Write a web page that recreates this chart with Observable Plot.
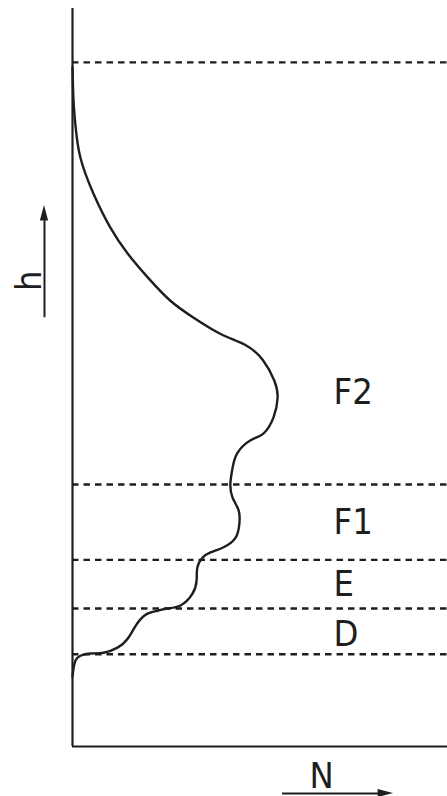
<!DOCTYPE html>
<html>
<head>
<meta charset="utf-8">
<script src="https://cdn.jsdelivr.net/npm/d3@7"></script>
<script src="https://cdn.jsdelivr.net/npm/@observablehq/plot@0.6"></script>
<style>
  html, body { margin: 0; padding: 0; background: #fff; }
  #chart svg { display: block; }
</style>
</head>
<body>
<div id="chart"></div>
<script>
// Electron density N (relative, 0–100) versus height h (relative, 0–100)
const profileN = [0, 0.27, 0.8, 2.1, 4.8, 8.3, 12.0, 14.7, 17.3, 20.0, 22.7, 25.3, 28.8, 32.0, 33.1, 33.3, 34.7, 36.8, 40.3, 43.5, 44.5, 44.3, 42.7, 42.1, 42.7, 44.0, 47.5, 50.9, 53.6, 54.7, 53.8, 50.7, 46.1, 39.5, 32.3, 26.1, 20.0, 14.7, 10.1, 5.6, 2.1, 0.8, 0.27, 0];
const profileH = [9.5, 10.6, 11.65, 12.3, 12.6, 12.7, 13.4, 14.6, 16.7, 18.0, 18.4, 18.7, 19.1, 20.7, 22.5, 24.3, 25.6, 26.3, 27.0, 28.3, 30.2, 32.0, 33.7, 35.6, 37.8, 39.8, 41.5, 42.4, 44.6, 47.3, 49.6, 52.4, 54.4, 55.9, 58.1, 60.4, 63.6, 66.8, 70.3, 74.9, 79.8, 84.1, 87.5, 92.0];

// Layer boundaries (dashed lines) and layer names
const boundaryH = [12.5, 18.7, 25.3, 35.5, 92.7];
const layerNames = ["D", "E", "F1", "F2"];
const layerLabelH = [15.2, 22.0, 30.4, 48.0];

const axisLabels = ["h", "N"];

const profile = profileN.map((n, i) => ({N: n, h: profileH[i]}));
const layers = layerNames.map((name, i) => ({name, h: layerLabelH[i]}));

const ink = "#1e1e1e";
const font = "'Liberation Sans Narrow', 'DejaVu Sans Condensed', 'Liberation Sans', sans-serif";

// h-arrow (vertical, pointing up) and N-arrow (horizontal, pointing right)
const hArrowX = -7.47, hArrowY1 = 58.1, hArrowY2 = 71.5, hTip = 73.3, hHalf = 1.1;
const nArrowY = -6.37, nArrowX1 = 56.0, nArrowX2 = 81.8, nTip = 85.6, nHalf = 0.55;

const chart = Plot.plot({
  width: 447,
  height: 796,
  marginLeft: 72,
  marginRight: 0,
  marginTop: 8,
  marginBottom: 50,
  x: {domain: [0, 100], axis: null},
  y: {domain: [0, 100], axis: null},
  style: {background: "#fff", overflow: "visible"},
  marks: [
    // dashed layer boundaries
    Plot.ruleY(boundaryH, {x1: 0, x2: 100, stroke: ink, strokeWidth: 2.3, strokeDasharray: "6.5,5"}),
    // axes
    Plot.ruleX([0], {y1: 0, y2: 100, stroke: ink, strokeWidth: 2.2}),
    Plot.ruleY([0], {x1: 0, x2: 100, stroke: ink, strokeWidth: 2.2}),
    // profile
    Plot.line(profile, {x: "N", y: "h", curve: "natural", stroke: ink, strokeWidth: 2.4}),
    // layer labels
    Plot.text(layers, {x: 69.6, y: "h", text: "name", textAnchor: "start", lineAnchor: "middle",
      fontSize: 36, fontFamily: font, fill: ink}),
    // h axis label and arrow
    Plot.ruleX([hArrowX], {y1: hArrowY1, y2: hArrowY2, stroke: ink, strokeWidth: 2}),
    Plot.areaY([
      {x: hArrowX - hHalf, y1: hArrowY2 - 0.3, y2: hArrowY2 - 0.3},
      {x: hArrowX, y1: hArrowY2 - 0.3, y2: hTip},
      {x: hArrowX + hHalf, y1: hArrowY2 - 0.3, y2: hArrowY2 - 0.3}
    ], {x: "x", y1: "y1", y2: "y2", fill: ink}),
    Plot.text([axisLabels[0]], {x: -11.6, y: 63.1, text: d => d, rotate: -90, lineAnchor: "middle",
      fontSize: 36, fontFamily: font, fill: ink}),
    // N axis label and arrow
    Plot.ruleY([nArrowY], {x1: nArrowX1, x2: nArrowX2, stroke: ink, strokeWidth: 2}),
    Plot.areaX([
      {y: nArrowY - nHalf, x1: nArrowX2 - 0.3, x2: nArrowX2 - 0.3},
      {y: nArrowY, x1: nArrowX2 - 0.3, x2: nTip},
      {y: nArrowY + nHalf, x1: nArrowX2 - 0.3, x2: nArrowX2 - 0.3}
    ], {y: "y", x1: "x1", x2: "x2", fill: ink}),
    Plot.text([axisLabels[1]], {x: 66.4, y: -4.0, text: d => d, lineAnchor: "middle",
      fontSize: 36, fontFamily: font, fill: ink})
  ]
});

document.getElementById("chart").append(chart);
</script>
</body>
</html>
